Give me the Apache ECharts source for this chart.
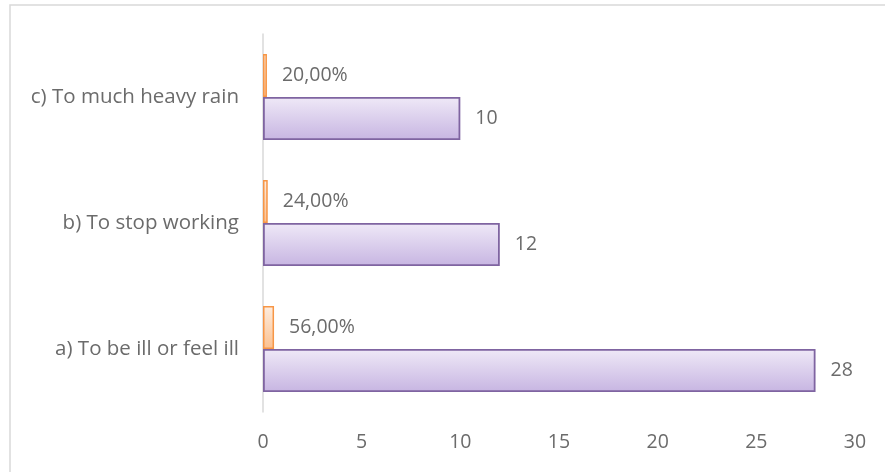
<!DOCTYPE html>
<html><head><meta charset="utf-8">
<script src="https://cdn.jsdelivr.net/npm/echarts@6/dist/echarts.min.js"></script>
<style>html,body{margin:0;padding:0;background:#fff}#c{width:885px;height:472px}</style>
</head><body><div id="c"></div>
<script>
var categories = ['a) To be ill or feel ill', 'b) To stop working', 'c) To much heavy rain'];
var counts = [28, 12, 10];
var percentages = [0.56, 0.24, 0.20];
var xTicks = [0, 5, 10, 15, 20, 25, 30];

var chart = echarts.init(document.getElementById('c'));
var font = 'Open Sans';
var txt = '#6b6b6b';
var fs = 20.5;
chart.setOption({
  animation: false,
  graphic: [{type:'rect', shape:{x:10, y:5, width:900, height:500}, style:{fill:'none', stroke:'#D9D9D9', lineWidth:1.5}, silent:true}],
  grid: {left: 263, right: 30, top: 34, bottom: 60},
  xAxis: {type:'value', min: xTicks[0], max: xTicks[xTicks.length-1], interval: 5,
    axisLine:{show:false}, axisTick:{show:false}, splitLine:{show:false},
    axisLabel:{color: txt, fontFamily: font, fontSize: fs - 1, margin: 20}},
  yAxis: {type:'category', data: categories,
    axisLine:{show:true, lineStyle:{color:'#D9D9D9', width:1.5}}, axisTick:{show:false},
    axisLabel:{color: txt, fontFamily: font, fontSize: fs, margin: 24}},
  series: [
    {name:'Percent', type:'bar', data: percentages, barWidth: 43, barGap: '0%',
      itemStyle:{color: new echarts.graphic.LinearGradient(0,0,0,1,[{offset:0,color:'#FDEDE0'},{offset:1,color:'#FBC08F'}]), borderColor:'#F79646', borderWidth:1.5},
      label:{show:true, position:'right', distance:15, color: txt, fontFamily: font, fontSize: fs - 1,
        formatter: function(p){ return (p.value*100).toFixed(2).replace('.', ',') + '%'; }}},
    {name:'Count', type:'bar', data: counts, barWidth: 43, barGap: '0%',
      itemStyle:{color: new echarts.graphic.LinearGradient(0,0,0,1,[{offset:0,color:'#EFE9F7'},{offset:1,color:'#C7B5E2'}]), borderColor:'#7F64A1', borderWidth:1.8},
      label:{show:true, position:'right', distance:15, color: txt, fontFamily: font, fontSize: fs - 1}}
  ]
});
</script></body></html>
